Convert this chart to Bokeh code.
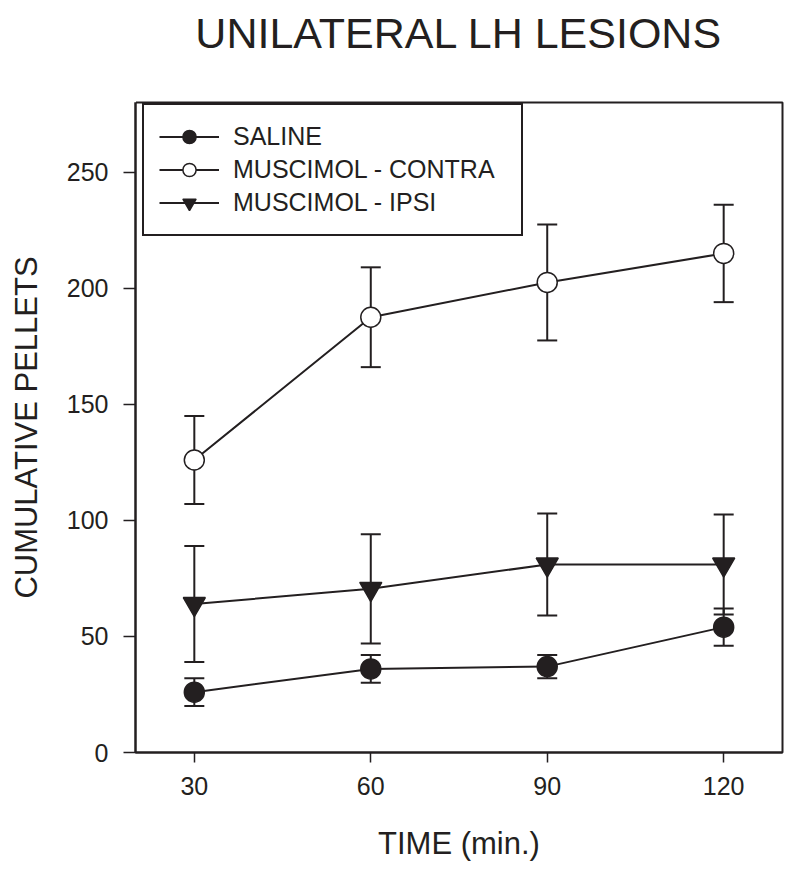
from bokeh.plotting import figure
from bokeh.models import (ColumnDataSource, Whisker, TeeHead, Legend, LegendItem,
                          FixedTicker, Title, LinearAxis)
from bokeh.embed import file_html
from bokeh.resources import INLINE

# ---- data ----
time_min = [30, 60, 90, 120]
saline = [26, 36, 37, 54]
saline_err = [6, 6, 5, 8]
contra = [126, 187.5, 202.5, 215]
contra_err = [19, 21.5, 25, 21]
ipsi = [64, 70.5, 81, 81]
ipsi_err = [25, 23.5, 22, 21.5]
y_ticks = [0, 50, 100, 150, 200, 250]
x_ticks = [30, 60, 90, 120]
x_start, x_end = 20, 130
title_text = "UNILATERAL LH LESIONS"

INK = "#231f20"
FONT = "Liberation Sans"

p = figure(width=791, height=867, x_range=(x_start, x_end), y_range=(0, 280),
           output_backend="svg", toolbar_location=None,
           min_border_left=135, min_border_right=9, min_border_bottom=115,
           min_border_top=102)
p.title.visible = False
xax = p.xaxis[0]
yax = p.yaxis[0]

# blank spacer between the title and the frame (white tick, no label)
spacer = LinearAxis(ticker=FixedTicker(ticks=[x_start]), axis_line_color=None,
                    major_tick_line_color="white", major_tick_line_width=1,
                    minor_tick_line_color=None, minor_tick_out=0,
                    major_tick_out=40, major_tick_in=0, major_label_standoff=0,
                    major_label_text_color=None)
p.add_layout(spacer, "above")

title = Title(text=title_text, text_font=FONT, text_font_size="43px",
              text_font_style="normal", text_color=INK, align="center",
              standoff=12)
p.add_layout(title, "above")

p.xgrid.visible = False
p.ygrid.visible = False
p.outline_line_color = INK
p.outline_line_width = 2
p.outline_line_alpha = 1

for ax in (xax, yax):
    ax.axis_line_color = INK
    ax.axis_line_width = 2
    ax.major_tick_line_color = INK
    ax.major_tick_line_width = 1.5
    ax.minor_tick_line_color = None
    ax.major_tick_in = 0
    ax.major_label_text_font = FONT
    ax.major_label_text_font_size = "25px"
    ax.major_label_text_color = INK
    ax.axis_label_text_font = FONT
    ax.axis_label_text_font_size = "31px"
    ax.axis_label_text_font_style = "normal"
    ax.axis_label_text_color = INK

xax.ticker = FixedTicker(ticks=x_ticks)
yax.ticker = FixedTicker(ticks=y_ticks)
xax.major_tick_out = 10
yax.major_tick_out = 12
xax.major_label_standoff = 14
yax.major_label_standoff = 15
xax.axis_label = "TIME (min.)"
yax.axis_label = "CUMULATIVE PELLETS"
xax.axis_label_standoff = 28
yax.axis_label_standoff = 20

series = [
    ("SALINE", saline, saline_err, "circle", INK),
    ("MUSCIMOL - CONTRA", contra, contra_err, "circle", "white"),
    ("MUSCIMOL - IPSI", ipsi, ipsi_err, "inverted_triangle", INK),
]

items = []
for name, vals, errs, marker, fill in series:
    src = ColumnDataSource(dict(
        x=time_min, y=vals,
        upper=[v + e for v, e in zip(vals, errs)],
        lower=[v - e for v, e in zip(vals, errs)],
    ))
    w = Whisker(source=src, base="x", upper="upper", lower="lower",
                line_color=INK, line_width=2,
                upper_head=TeeHead(size=20, line_color=INK, line_width=2),
                lower_head=TeeHead(size=20, line_color=INK, line_width=2))
    p.add_layout(w)
    ln = p.line("x", "y", source=src, line_color=INK, line_width=2)
    sz = 20 if marker == "circle" else 22
    sc = p.scatter("x", "y", source=src, marker=marker, size=sz,
                   fill_color=fill, line_color=INK, line_width=1.5)
    items.append(LegendItem(label=name, renderers=[ln, sc]))

legend = Legend(items=items, location=(7, 516),
                label_text_font=FONT, label_text_font_size="25px",
                label_text_color=INK, glyph_width=60, glyph_height=33,
                label_height=33, label_width=273, spacing=0, padding=15,
                label_standoff=14,
                border_line_color=INK, border_line_width=2, border_line_alpha=1.0,
                background_fill_alpha=1.0, margin=0)
p.add_layout(legend, "center")

open("out.html", "w").write(file_html(p, INLINE))
